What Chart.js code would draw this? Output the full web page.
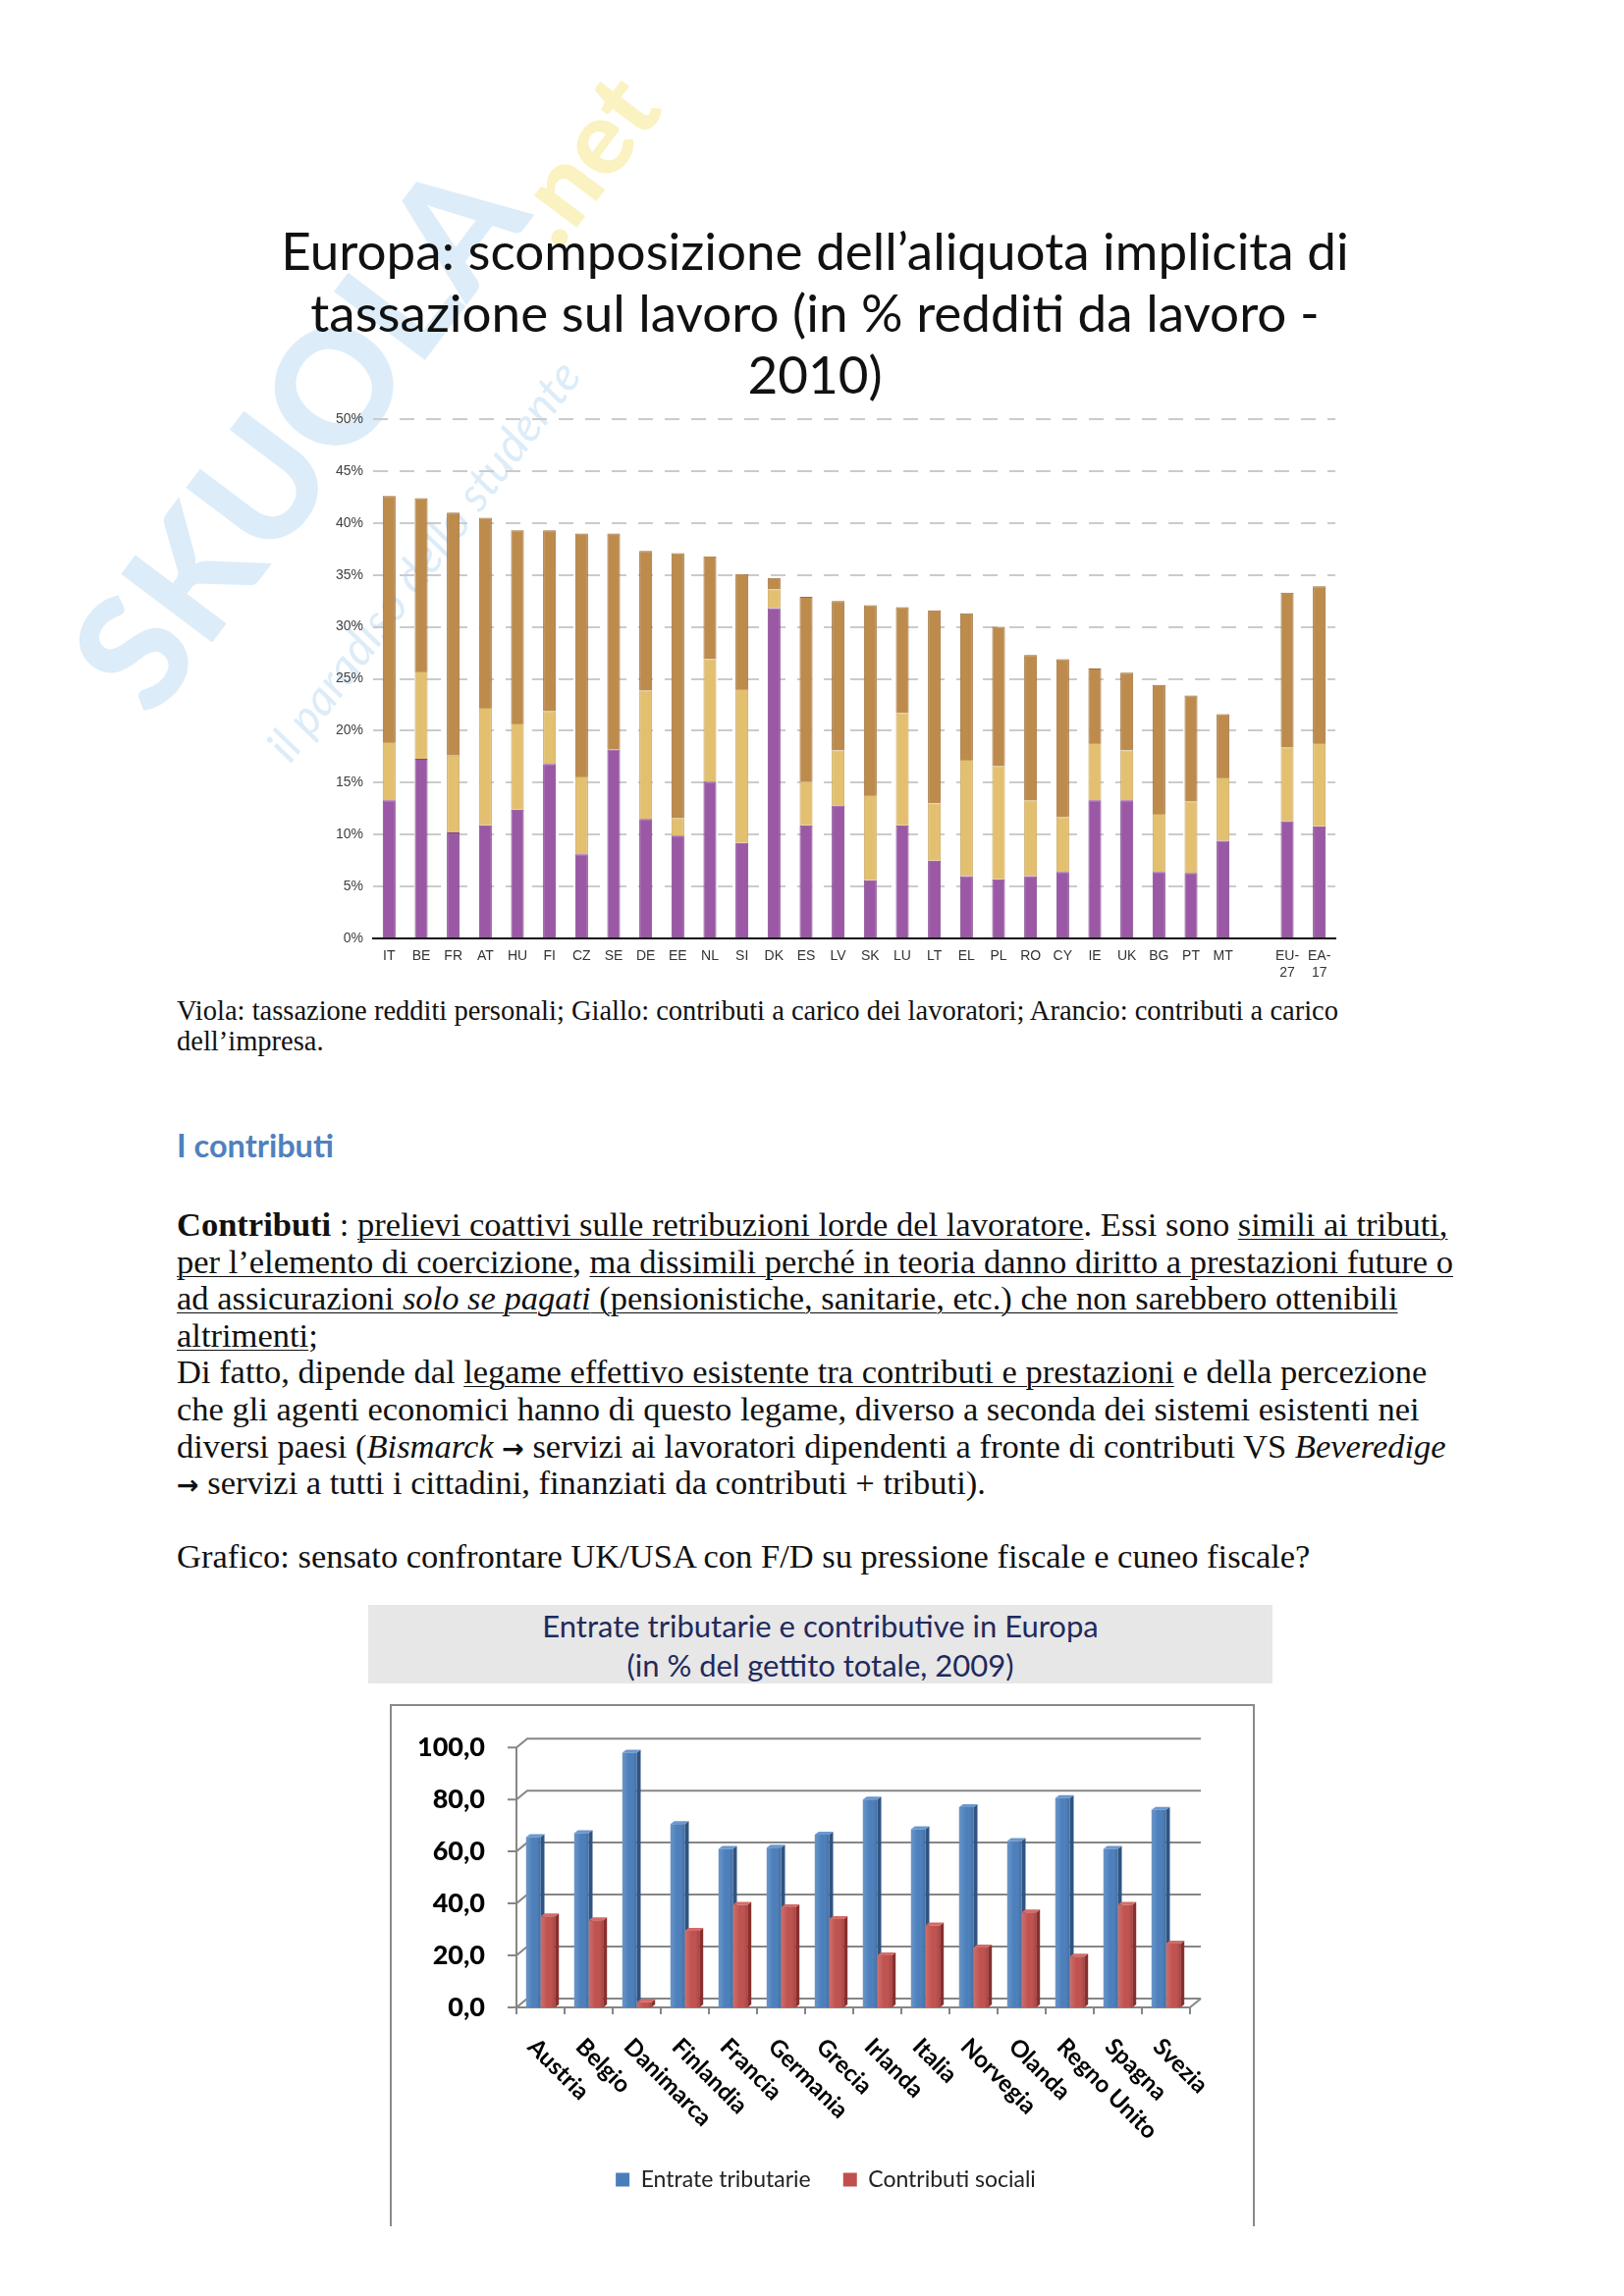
<!DOCTYPE html>
<html lang="it">
<head>
<meta charset="utf-8">
<script src="https://cdn.jsdelivr.net/npm/chart.js@4.4.1/dist/chart.umd.min.js"></script>
<style>
body { margin:0; width:1654px; height:2339px; background:#fff; position:relative; overflow:hidden; }
.abs { position:absolute; white-space:nowrap; }
.serif { font-family:"Liberation Serif", "Times New Roman", serif; color:#111; }
.wm { font-family:"Lato", sans-serif; font-weight:900; color:#dcecf8; transform:translate(-50%, -50%) rotate(-53deg); }
.freccia { font-family:"DejaVu Sans", sans-serif; font-weight:bold; font-size:27px; line-height:0; }
#titolo1 { left:230px; top:223px; width:1200px; text-align:center; font-family:Lato, sans-serif; font-size:53px; line-height:63px; color:#111; }
#didascalia { left:180px; top:1014px; font-size:28.5px; line-height:31px; }
#sezione { left:180px; top:1149px; font-family:Lato, sans-serif; font-weight:bold; font-size:32.5px; line-height:36px; color:#4f81bd; }
#testo { left:180px; top:1229px; font-size:34.5px; line-height:37.6px; }
#testo u { text-decoration-thickness:1px; text-underline-offset:3px; }
#box2 { left:375px; top:1635px; width:921px; height:80px; background:#e7e7e7; }
#titolo2 { left:375px; top:1636px; width:921px; text-align:center; font-family:Lato, sans-serif; font-size:31px; line-height:40px; color:#1f2a5c; }
#cornice { left:397px; top:1736px; width:877px; height:530px; border:2px solid #8a8a8a; border-bottom:none; }
</style>
</head>
<body>

<div class="abs wm" style="left:300px; top:440px; font-size:160px;">SKUOLA</div>
<div class="abs wm" style="left:590px; top:160px; font-size:105px; color:#faf2c0;">.net</div>
<div class="abs wm" style="left:430px; top:570px; font-size:48px; font-weight:400; font-style:italic;">il paradiso dello studente</div>

<div id="titolo1" class="abs">Europa: scomposizione dell’aliquota implicita di<br>tassazione sul lavoro (in % redditi da lavoro -<br>2010)</div>

<canvas id="grafico1" class="abs" width="1060" height="599" style="left:320px; top:407px;"></canvas>

<div id="didascalia" class="abs serif">Viola: tassazione redditi personali; Giallo: contributi a carico dei lavoratori; Arancio: contributi a carico<br>dell’impresa.</div>

<div id="sezione" class="abs">I contributi</div>

<div id="testo" class="abs serif"><b>Contributi</b> : <u>prelievi coattivi sulle retribuzioni lorde del lavoratore</u>. Essi sono <u>simili ai tributi,</u><br><u>per l’elemento di coercizione</u>, <u>ma dissimili perché in teoria danno diritto a prestazioni future o</u><br><u>ad assicurazioni <i>solo se pagati</i> (pensionistiche, sanitarie, etc.) che non sarebbero ottenibili</u><br><u>altrimenti</u>;<br>Di fatto, dipende dal <u>legame effettivo esistente tra contributi e prestazioni</u> e della percezione<br>che gli agenti economici hanno di questo legame, diverso a seconda dei sistemi esistenti nei<br>diversi paesi (<i>Bismarck</i> <span class="freccia">→</span> servizi ai lavoratori dipendenti a fronte di contributi VS <i>Beveredige</i><br><span class="freccia">→</span> servizi a tutti i cittadini, finanziati da contributi + tributi).<br><br>Grafico: sensato confrontare UK/USA con F/D su pressione fiscale e cuneo fiscale?</div>

<div id="box2" class="abs"></div>
<div id="titolo2" class="abs">Entrate tributarie e contributive in Europa<br>(in % del gettito totale, 2009)</div>
<div id="cornice" class="abs"></div>
<canvas id="grafico2" class="abs" width="882" height="522" style="left:400px; top:1740px;"></canvas>

<script>
// grafico 1: aliquota implicita sul lavoro, 2010
const paesi = ['IT','BE','FR','AT','HU','FI','CZ','SE','DE','EE','NL','SI','DK','ES','LV','SK','LU','LT','EL','PL','RO','CY','IE','UK','BG','PT','MT','',['EU-','27'],['EA-','17']]
const impostaRedditi = [13.3,17.3,10.2,10.9,12.4,16.8,8.1,18.2,11.5,9.9,15.1,9.2,31.8,10.9,12.8,5.6,10.9,7.5,6.0,5.7,6.0,6.4,13.3,13.3,6.4,6.3,9.4,null,11.3,10.8]
const contribLavoratori = [5.6,8.4,7.4,11.3,8.3,5.1,7.5,0,12.4,1.7,11.8,14.8,1.8,4.2,5.3,8.2,10.8,5.5,11.2,10.9,7.3,5.3,5.5,4.8,5.6,6.9,6.1,null,7.1,8.0]
const contribImpresa = [23.7,16.7,23.4,18.3,18.6,17.4,23.4,20.8,13.4,25.5,9.9,11.1,1.1,17.8,14.4,18.3,10.2,18.6,14.1,13.4,14.0,15.2,7.2,7.5,12.4,10.2,6.1,null,14.9,15.1]

// grafico 2: entrate in % del gettito totale, 2009
const paesiEU = ['Austria','Belgio','Danimarca','Finlandia','Francia','Germania','Grecia','Irlanda','Italia','Norvegia','Olanda','Regno Unito','Spagna','Svezia']
const entrateTributarie = [65.5,67.0,98.0,70.5,61.0,61.5,66.5,80.0,68.5,77.0,64.0,80.5,61.0,76.0]
const contributiSociali = [35.0,33.5,2.0,29.5,39.5,38.5,34.0,20.0,31.5,23.0,36.5,19.5,39.5,24.5]

const fontPiccolo = {family:'"Liberation Sans", Arial, sans-serif', size:14}

new Chart(document.getElementById('grafico1'), {
    type: 'bar',
    data: {
        labels: paesi,
        datasets: [
            {label:'Viola', data:impostaRedditi, backgroundColor:'#9b58a5', borderColor:'#7e468a', borderWidth:1},
            {label:'Giallo', data:contribLavoratori, backgroundColor:'#e3c070', borderColor:'#c8a459', borderWidth:1},
            {label:'Arancio', data:contribImpresa, backgroundColor:'#bd8b4c', borderColor:'#9b6e37', borderWidth:1}
        ]
    },
    options: {
        responsive:false,
        animation:false,
        layout:{padding:{top:20, right:20, left:0, bottom:0}},
        datasets:{bar:{barPercentage:0.4, categoryPercentage:1}},
        plugins:{legend:{display:false}, tooltip:{enabled:false}},
        scales:{
            x:{
                stacked:true,
                grid:{display:false, drawTicks:false},
                border:{display:true, color:'#111', width:2},
                ticks:{padding:10, color:'#333', font:fontPiccolo, maxRotation:0, minRotation:0, autoSkip:false},
                afterFit: s => { s.height = 50 }
            },
            y:{
                stacked:true, min:0, max:50,
                grid:{drawTicks:false, lineWidth:2, color: c => c.tick && c.tick.value === 0 ? 'rgba(0,0,0,0)' : '#cbcbcb'},
                border:{display:false, dash:[15,12]},
                ticks:{stepSize:5, padding:10, color:'#404040', font:fontPiccolo, callback: v => v + '%'},
                afterFit: s => { s.width = 60 }
            }
        }
    }
})

// effetto 3D stile Excel: pareti, pavimento e lati delle colonne
const PX = 11, PY = 9, BX = 4, BY = 3
const lati = [{lato:'#2f5483', cima:'#6b98cf'}, {lato:'#8a2f2d', cima:'#d36c69'}]
const pareti3d = {
    id:'pareti3d',
    beforeDatasetsDraw(chart) {
        const {ctx, chartArea:a, scales:{x, y}} = chart
        ctx.save()
        ctx.strokeStyle = '#868686'
        ctx.lineWidth = 2
        y.ticks.forEach(t => {
            const py = y.getPixelForValue(t.value)
            ctx.beginPath()
            ctx.moveTo(a.left - 9, py)
            ctx.lineTo(a.left, py)
            ctx.lineTo(a.left + PX, py - PY)
            ctx.lineTo(a.right + PX, py - PY)
            ctx.stroke()
        })
        ctx.beginPath()
        ctx.moveTo(a.left, a.top)
        ctx.lineTo(a.left, a.bottom + 6)
        ctx.moveTo(a.left, a.bottom)
        ctx.lineTo(a.right, a.bottom)
        ctx.lineTo(a.right + PX, a.bottom - PY)
        ctx.stroke()
        for (let i = 0; i <= paesiEU.length; i++) {
            const px = x.getPixelForValue(i - 0.5)
            ctx.beginPath()
            ctx.moveTo(px, a.bottom)
            ctx.lineTo(px, a.bottom + 7)
            ctx.stroke()
        }
        // lati e cime delle colonne, coperti poi dalle facce frontali
        chart.data.datasets.forEach((ds, d) => {
            chart.getDatasetMeta(d).data.forEach(b => {
                const l = b.x - b.width / 2, r = b.x + b.width / 2
                ctx.fillStyle = lati[d].lato
                ctx.beginPath()
                ctx.moveTo(r, b.y); ctx.lineTo(r + BX, b.y - BY); ctx.lineTo(r + BX, b.base - BY); ctx.lineTo(r, b.base)
                ctx.closePath(); ctx.fill()
                ctx.fillStyle = lati[d].cima
                ctx.beginPath()
                ctx.moveTo(l, b.y); ctx.lineTo(l + BX, b.y - BY); ctx.lineTo(r + BX, b.y - BY); ctx.lineTo(r, b.y)
                ctx.closePath(); ctx.fill()
            })
        })
        ctx.restore()
    },
    afterDatasetsDraw(chart) {
        // leggera sfumatura sulle facce frontali
        const {ctx} = chart
        ctx.save()
        chart.data.datasets.forEach((ds, d) => {
            chart.getDatasetMeta(d).data.forEach(b => {
                const l = b.x - b.width / 2
                const g = ctx.createLinearGradient(l, 0, l + b.width, 0)
                g.addColorStop(0, 'rgba(255,255,255,0.18)')
                g.addColorStop(0.5, 'rgba(255,255,255,0)')
                g.addColorStop(1, 'rgba(0,0,0,0.14)')
                ctx.fillStyle = g
                ctx.fillRect(l, b.y, b.width, b.base - b.y)
            })
        })
        ctx.restore()
    }
}

const etichetteX = {
    id:'etichetteX',
    afterDraw(chart) {
        const {ctx, chartArea:a, scales:{x}} = chart
        ctx.save()
        ctx.font = 'bold 24px Lato'
        ctx.fillStyle = '#000'
        ctx.textAlign = 'left'
        ctx.textBaseline = 'middle'
        paesiEU.forEach((nome, i) => {
            ctx.save()
            ctx.translate(x.getPixelForValue(i) - 9, a.bottom + 36)
            ctx.rotate(Math.PI / 4)
            ctx.fillText(nome, 0, 0)
            ctx.restore()
        })
        ctx.restore()
    }
}

new Chart(document.getElementById('grafico2'), {
    type:'bar',
    data:{
        labels:paesiEU,
        datasets:[
            {label:'Entrate tributarie', data:entrateTributarie, backgroundColor:'#4a7ebb'},
            {label:'Contributi sociali', data:contributiSociali, backgroundColor:'#c0504d'}
        ]
    },
    options:{
        responsive:false,
        animation:false,
        layout:{padding:{top:37, right:0, left:0, bottom:20}},
        datasets:{bar:{barPercentage:1, categoryPercentage:0.6}},
        plugins:{
            legend:{position:'bottom', labels:{boxWidth:14, boxHeight:14, padding:33, color:'#222', font:{family:'Lato', size:23}}},
            tooltip:{enabled:false}
        },
        scales:{
            x:{grid:{display:false}, border:{display:false}, ticks:{display:false}, afterFit: s => { s.height = 131 }},
            y:{
                min:0, max:100,
                grid:{display:false}, border:{display:false},
                ticks:{stepSize:20, padding:24, color:'#000', font:{family:'Lato', size:27, weight:'900'}, callback: v => v.toFixed(1).replace('.', ',')},
                afterFit: s => { s.width = 126 }
            },
            // asse vuoto a destra: lascia la legenda centrata nella cornice
            y2:{
                position:'right', grid:{display:false}, border:{display:false}, ticks:{display:false},
                afterFit: s => { s.width = 70 }
            }
        }
    },
    plugins:[pareti3d, etichetteX]
})
</script>
</body>
</html>
